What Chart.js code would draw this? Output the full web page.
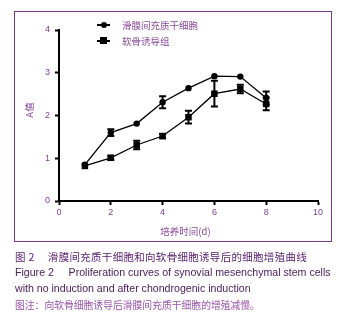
<!DOCTYPE html>
<html>
<head>
<meta charset="utf-8">
<script src="https://cdn.jsdelivr.net/npm/chart.js@4/dist/chart.umd.min.js"></script>
<style>
  html, body { margin: 0; padding: 0; background: #fff; }
  body { width: 344px; height: 318px; position: relative; overflow: hidden;
         font-family: "Liberation Sans", Arial, "Noto Sans CJK SC", sans-serif; }
  #wrap { position: absolute; left: 0; top: 0; width: 344px; height: 318px; }
  #frame { position: absolute; left: 14px; top: 11px; width: 316px; height: 229px;
           border: 1.5px solid #7d3590; box-sizing: content-box; pointer-events: none; }
  .legend { position: absolute; left: 97px; font-size: 9.5px; color: #8a4a9a;
            font-family: "Noto Sans CJK SC", sans-serif; line-height: 12px; }
  .legend .sym { position: absolute; left: 0; top: 5px; width: 13px; height: 1.5px; background: #000; }
  .legend .mk { position: absolute; background: #000; }
  .legend .txt { position: absolute; left: 25px; top: 0; white-space: nowrap; }
  .cap { position: absolute; left: 15px; white-space: nowrap; }
  #c1 { top: 249px; font-size: 10.5px; color: #5e2473; font-family: "Noto Sans CJK SC", sans-serif; letter-spacing: 0.3px; }
  #c2 { top: 266px; font-size: 10.6px; color: #50205f; }
  #c3 { top: 282px; font-size: 10.6px; color: #50205f; }
  #c4 { top: 298px; font-size: 9.8px; color: #9a55aa; font-family: "Noto Sans CJK SC", sans-serif; }
</style>
</head>
<body>
<div id="wrap"><canvas id="chart" width="344" height="318"></canvas></div>
<div id="frame"></div>
<div class="legend" style="top:19px;">
  <div class="sym"></div><div class="mk" style="left:4px;top:3px;width:6px;height:6px;border-radius:50%;"></div>
  <div class="txt">滑膜间充质干细胞</div>
</div>
<div class="legend" style="top:35px;">
  <div class="sym"></div><div class="mk" style="left:3px;top:2px;width:7px;height:7px;"></div>
  <div class="txt">软骨诱导组</div>
</div>
<div class="cap" id="c1">图 2&nbsp;&nbsp;&nbsp;&nbsp;&nbsp;滑膜间充质干细胞和向软骨细胞诱导后的细胞增殖曲线</div>
<div class="cap" id="c2">Figure 2&nbsp;&nbsp;&nbsp;&nbsp;&nbsp;Proliferation curves of synovial mesenchymal stem cells</div>
<div class="cap" id="c3">with no induction and after chondrogenic induction</div>
<div class="cap" id="c4">图注：向软骨细胞诱导后滑膜间充质干细胞的增殖减慢。</div>
<script>
const days = [1, 2, 3, 4, 5, 6, 7, 8];
const synovial = [0.85, 1.60, 1.81, 2.31, 2.64, 2.92, 2.91, 2.41];
const synovialErr = [0.03, 0.08, 0.03, 0.14, 0.03, 0.03, 0.03, 0.15];
const chondro = [0.82, 1.01, 1.31, 1.52, 1.96, 2.51, 2.62, 2.27];
const chondroErr = [0.03, 0.05, 0.10, 0.05, 0.15, 0.30, 0.10, 0.15];
const seriesNames = ['滑膜间充质干细胞', '软骨诱导组'];
const xTicks = [0, 2, 4, 6, 8, 10];
const yTicks = [0, 1, 2, 3, 4];
const xTitle = '培养时间(d)';
const yTitle = 'A值';

const tickColor = '#7b3f8c';

const errorBars = {
  id: 'errorBars',
  beforeDatasetsDraw(chart) {
    const ctx = chart.ctx;
    const xs = chart.scales.x, ys = chart.scales.y;
    chart.data.datasets.forEach((ds) => {
      const errs = ds.errors;
      ds.data.forEach((p, i) => {
        const e = errs[i];
        if (e < 0.05) return;
        const px = xs.getPixelForValue(p.x);
        const top = ys.getPixelForValue(p.y + e);
        const bot = ys.getPixelForValue(p.y - e);
        ctx.save();
        ctx.strokeStyle = '#000';
        ctx.lineWidth = 2;
        ctx.beginPath();
        ctx.moveTo(px, top); ctx.lineTo(px, bot);
        ctx.moveTo(px - 3.5, top); ctx.lineTo(px + 3.5, top);
        ctx.moveTo(px - 3.5, bot); ctx.lineTo(px + 3.5, bot);
        ctx.stroke();
        ctx.restore();
      });
    });
  }
};

const axisTitles = {
  id: 'axisTitles',
  afterDraw(chart) {
    const ctx = chart.ctx;
    const a = chart.chartArea;
    ctx.save();
    ctx.fillStyle = '#8a4a9a';
    ctx.font = '9.5px "Noto Sans CJK SC", sans-serif';
    ctx.textAlign = 'center';
    ctx.textBaseline = 'middle';
    ctx.fillText(xTitle, (a.left + a.right) / 2 - 3, 231);
    ctx.translate(29, 110);
    ctx.rotate(-Math.PI / 2);
    ctx.fillText(yTitle, 0, 0);
    ctx.restore();
  }
};

new Chart(document.getElementById('chart'), {
  type: 'line',
  data: {
    datasets: [
      {
        label: seriesNames[0],
        data: days.map((d, i) => ({ x: d, y: synovial[i] })),
        errors: synovialErr,
        borderColor: '#000', backgroundColor: '#000',
        borderWidth: 1.3, pointStyle: 'circle', pointRadius: 3.2,
        pointBorderWidth: 0, tension: 0
      },
      {
        label: seriesNames[1],
        data: days.map((d, i) => ({ x: d, y: chondro[i] })),
        errors: chondroErr,
        borderColor: '#000', backgroundColor: '#000',
        borderWidth: 1.3, pointStyle: 'rect', pointRadius: 4.6,
        pointBorderWidth: 0, tension: 0
      }
    ]
  },
  options: {
    responsive: false,
    animation: false,
    devicePixelRatio: 1,
    layout: { padding: { left: 14, right: 26, top: 30, bottom: 97 } },
    plugins: { legend: { display: false }, tooltip: { enabled: false } },
    scales: {
      x: {
        type: 'linear', min: 0, max: 10,
        afterBuildTicks(s) { s.ticks = xTicks.map(v => ({ value: v })); },
        afterFit(s) { s.height = 20; },
        border: { color: '#000', width: 2 },
        grid: { drawOnChartArea: false, color: '#000', tickLength: 4, tickWidth: 2, tickColor: '#000' },
        ticks: { color: tickColor, font: { size: 9, family: '"Liberation Sans", Arial' }, padding: 2, maxRotation: 0 }
      },
      y: {
        type: 'linear', min: 0, max: 4,
        afterBuildTicks(s) { s.ticks = yTicks.map(v => ({ value: v })); },
        afterFit(s) { s.width = 45; },
        border: { color: '#000', width: 2 },
        grid: { drawOnChartArea: false, color: '#000', tickLength: 4, tickWidth: 2, tickColor: '#000' },
        ticks: { color: tickColor, font: { size: 9, family: '"Liberation Sans", Arial' }, padding: 5 }
      }
    }
  },
  plugins: [errorBars, axisTitles]
});
</script>
</body>
</html>
